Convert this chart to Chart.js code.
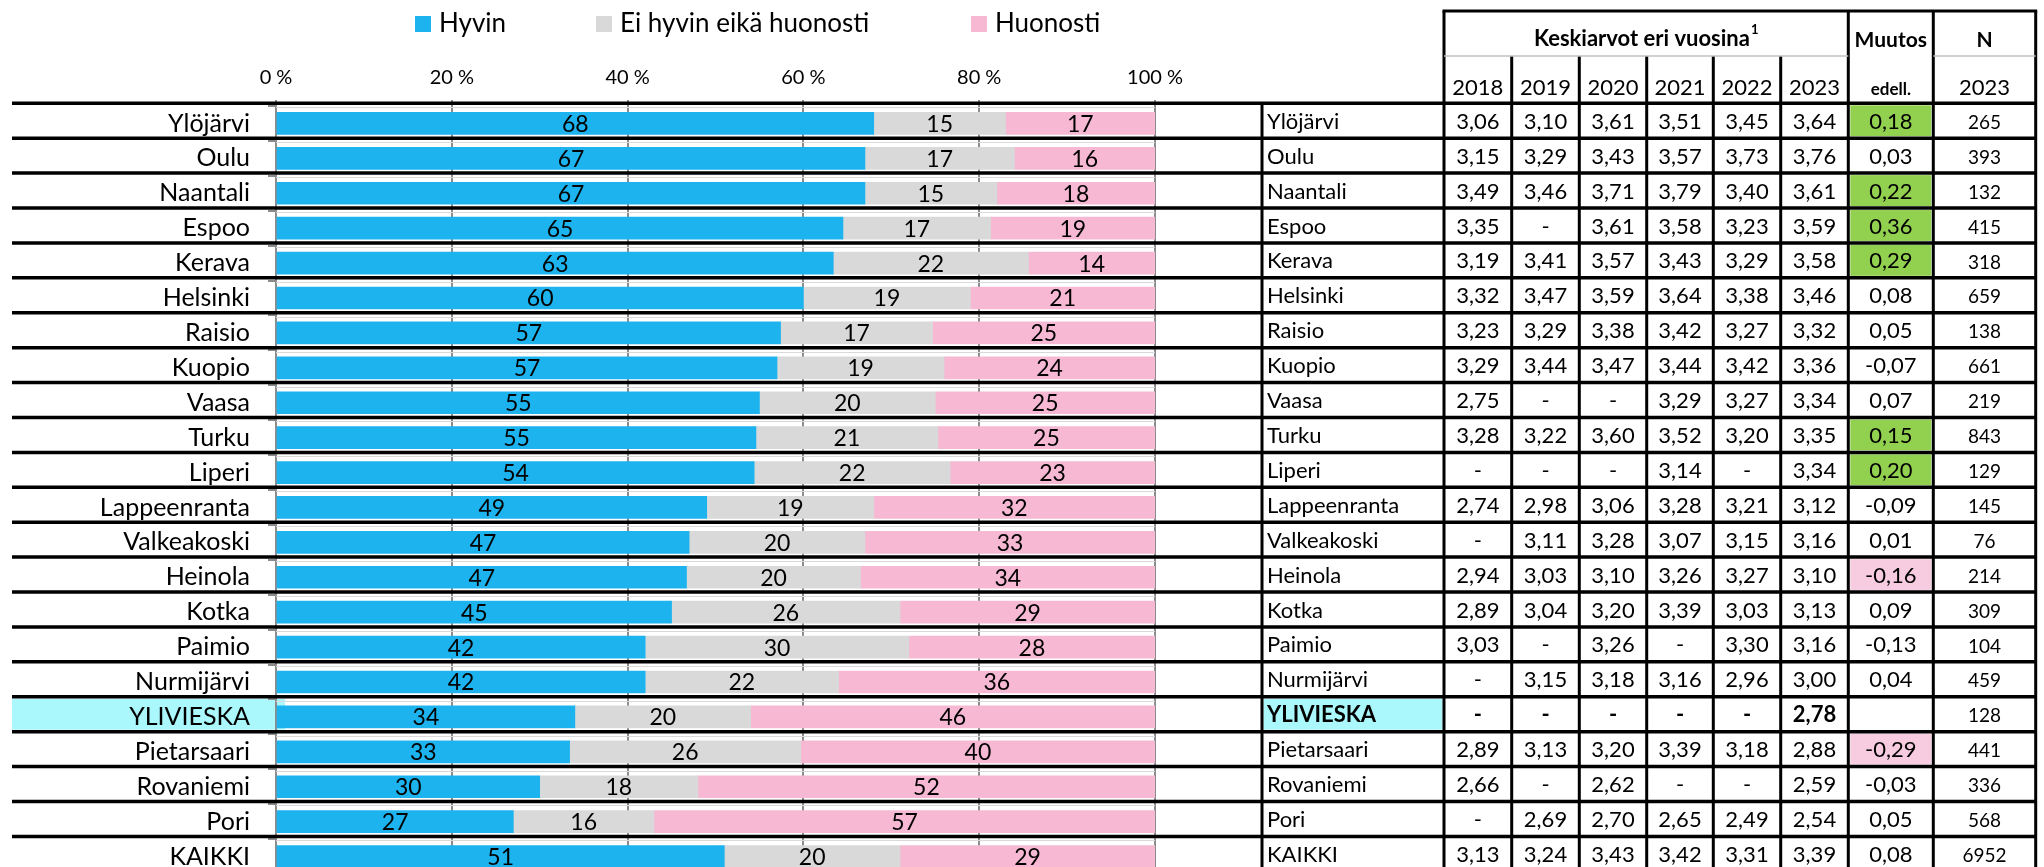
<!DOCTYPE html>
<html><head><meta charset="utf-8">
<script src="https://cdn.jsdelivr.net/npm/chart.js@4.4.1/dist/chart.umd.min.js"></script>
<style>
html,body{margin:0;padding:0;background:#fff;overflow:hidden;width:2044px;height:867px}
#wrap{width:2044px;height:880px;position:relative}
</style>
</head><body><div id="wrap"><canvas id="c" width="2044" height="880"></canvas></div>
<script>
// ---------- DATA ----------
const categories = ['Ylöjärvi','Oulu','Naantali','Espoo','Kerava','Helsinki','Raisio','Kuopio','Vaasa','Turku','Liperi','Lappeenranta','Valkeakoski','Heinola','Kotka','Paimio','Nurmijärvi','YLIVIESKA','Pietarsaari','Rovaniemi','Pori','KAIKKI'];
const seriesNames = ['Hyvin','Ei hyvin eikä huonosti','Huonosti'];
const hyvin      = [68, 67, 67, 64.5, 63.4, 60, 57.4, 57, 55, 54.6, 54.4, 49, 47, 46.7, 45, 42, 42, 34, 33.4, 30, 27, 51];
const eiHyvin    = [15, 17, 15, 16.8, 22.2, 19, 17.3, 19, 20, 20.7, 22.3, 19, 20, 19.8, 26, 30, 22, 20, 26.3, 18, 16, 20];
const huonosti   = [17, 16, 18, 18.7, 14.4, 21, 25.3, 24, 25, 24.7, 23.3, 32, 33, 33.5, 29, 28, 36, 46, 40.3, 52, 57, 29];
const xTicks = [0, 20, 40, 60, 80, 100];
const highlightCategory = 'YLIVIESKA';

const years = ['2018','2019','2020','2021','2022','2023'];
const avg2018 = [3.06,3.15,3.49,3.35,3.19,3.32,3.23,3.29,2.75,3.28,null,2.74,null,2.94,2.89,3.03,null,null,2.89,2.66,null,3.13];
const avg2019 = [3.10,3.29,3.46,null,3.41,3.47,3.29,3.44,null,3.22,null,2.98,3.11,3.03,3.04,null,3.15,null,3.13,null,2.69,3.24];
const avg2020 = [3.61,3.43,3.71,3.61,3.57,3.59,3.38,3.47,null,3.60,null,3.06,3.28,3.10,3.20,3.26,3.18,null,3.20,2.62,2.70,3.43];
const avg2021 = [3.51,3.57,3.79,3.58,3.43,3.64,3.42,3.44,3.29,3.52,3.14,3.28,3.07,3.26,3.39,null,3.16,null,3.39,null,2.65,3.42];
const avg2022 = [3.45,3.73,3.40,3.23,3.29,3.38,3.27,3.42,3.27,3.20,null,3.21,3.15,3.27,3.03,3.30,2.96,null,3.18,null,2.49,3.31];
const avg2023 = [3.64,3.76,3.61,3.59,3.58,3.46,3.32,3.36,3.34,3.35,3.34,3.12,3.16,3.10,3.13,3.16,3.00,2.78,2.88,2.59,2.54,3.39];
const muutos  = [0.18,0.03,0.22,0.36,0.29,0.08,0.05,-0.07,0.07,0.15,0.20,-0.09,0.01,-0.16,0.09,-0.13,0.04,null,-0.29,-0.03,0.05,0.08];
const n2023   = [265,393,132,415,318,659,138,661,219,843,129,145,76,214,309,104,459,128,441,336,568,6952];

// ---------- STYLE ----------
const FONT = 'Lato';
const colors = ['#1cb3ef', '#d9d9d9', '#f6b8d2'];
const GRID = '#8c8c8c';
const T = { // table geometry (px)
  lineLeft: 12, lineRight: 2036,
  nameL: 1262, cols: [1444, 1511.7, 1579.3, 1646.7, 1713.3, 1780.7, 1848.3], muutosR: 1933.3, nR: 2035.7,
  headTop: 11, headMid: 56, rowShift: -2.7
};

function fmt(v){ return v == null ? '-' : v.toFixed(2).replace('.', ','); }

function rowInfo(chart, i){
  const y = chart.scales.y;
  const pitch = y.height / categories.length;
  const c = y.getPixelForValue(i);
  const top = c - pitch / 2 + T.rowShift;
  return { top, bottom: top + pitch, mid: top + pitch / 2, c, pitch };
}

const highlightPlugin = {
  id: 'highlight',
  beforeDraw(chart){
    const ctx = chart.ctx;
    const i = categories.indexOf(highlightCategory);
    const r = rowInfo(chart, i);
    ctx.save();
    ctx.fillStyle = '#abf8fc';
    ctx.fillRect(T.lineLeft, r.top + 2, chart.chartArea.left + 9 - T.lineLeft, r.pitch - 4);
    ctx.restore();
  }
};

const labelsPlugin = {
  id: 'segLabels',
  afterDatasetsDraw(chart){
    const ctx = chart.ctx;
    ctx.save();
    ctx.font = '23px ' + FONT;
    ctx.fillStyle = '#000';
    ctx.textAlign = 'center';
    ctx.textBaseline = 'middle';
    chart.data.datasets.forEach((ds, di) => {
      const meta = chart.getDatasetMeta(di);
      meta.data.forEach((bar, i) => {
        const v = ds.data[i];
        if (v == null) return;
        const right = Math.min(bar.x, chart.chartArea.right);
        const cx = (right + bar.base) / 2;
        ctx.fillText(String(Math.round(v)), cx, bar.y + 1);
      });
    });
    ctx.restore();
  }
};

const tablePlugin = {
  id: 'table',
  afterDraw(chart){
    const ctx = chart.ctx;
    const n = categories.length;
    ctx.save();
    // cell fills
    for (let i = 0; i < n; i++){
      const r = rowInfo(chart, i);
      if (categories[i] === highlightCategory){
        ctx.fillStyle = '#abf8fc';
        ctx.fillRect(T.nameL + 1.5, r.top + 2, T.cols[0] - T.nameL - 3, r.pitch - 4);
      }
      const m = muutos[i];
      if (m != null && Math.abs(m) >= 0.15){
        ctx.fillStyle = m > 0 ? '#92d050' : '#f8cce0';
        ctx.fillRect(T.cols[6] + 2, r.top + 2, T.muutosR - T.cols[6] - 4, r.pitch - 4);
      }
    }
    // light lines below row separators in the plot
    ctx.strokeStyle = '#d9d9d9';
    ctx.lineWidth = 1;
    for (let i = 0; i < n; i++){
      const r = rowInfo(chart, i);
      ctx.beginPath();
      ctx.moveTo(chart.chartArea.left, Math.round(r.top) + 4.5);
      ctx.lineTo(chart.chartArea.right, Math.round(r.top) + 4.5);
      ctx.stroke();
    }
    // thick row separators
    ctx.strokeStyle = '#000';
    ctx.lineWidth = 3.5;
    const bottomY = rowInfo(chart, n - 1).bottom;
    for (let i = 0; i <= n; i++){
      const y = i < n ? rowInfo(chart, i).top : bottomY;
      ctx.beginPath();
      ctx.moveTo(T.lineLeft, y);
      ctx.lineTo(T.lineRight, y);
      ctx.stroke();
    }
    const firstTop = rowInfo(chart, 0).top;
    // vertical table lines
    ctx.lineWidth = 3;
    const vline = (x, y0) => { ctx.beginPath(); ctx.moveTo(x, y0); ctx.lineTo(x, bottomY); ctx.stroke(); };
    vline(T.nameL, firstTop);
    vline(T.cols[0], T.headTop);
    for (let k = 1; k < 6; k++) vline(T.cols[k], T.headMid);
    vline(T.cols[6], T.headTop);
    vline(T.muutosR, T.headTop);
    vline(T.nR, T.headTop);
    // top border
    ctx.beginPath(); ctx.moveTo(T.cols[0] - 1.5, T.headTop); ctx.lineTo(T.nR + 1.5, T.headTop); ctx.stroke();
    // header mid thin lines
    ctx.strokeStyle = '#bfbfbf'; ctx.lineWidth = 1.5;
    ctx.beginPath(); ctx.moveTo(T.cols[0], T.headMid); ctx.lineTo(T.cols[6], T.headMid); ctx.stroke();
    ctx.beginPath(); ctx.moveTo(T.muutosR, T.headMid); ctx.lineTo(T.nR, T.headMid); ctx.stroke();

    // header texts
    ctx.fillStyle = '#000';
    ctx.textBaseline = 'middle';
    const cx = (a, b) => (a + b) / 2;
    ctx.font = 'bold 22px ' + FONT;
    const head = 'Keskiarvot eri vuosina';
    const wHead = ctx.measureText(head).width;
    ctx.font = 'bold 13px ' + FONT;
    const wSup = ctx.measureText('1').width;
    const hx = cx(T.cols[0], T.cols[6]) - (wHead + wSup + 1) / 2;
    ctx.textAlign = 'left';
    ctx.font = 'bold 22px ' + FONT;
    ctx.fillText(head, hx, 39);
    ctx.font = 'bold 13px ' + FONT;
    ctx.fillText('1', hx + wHead + 1, 30);
    ctx.textAlign = 'center';
    ctx.font = 'bold 21px ' + FONT;
    ctx.fillText('Muutos', cx(T.cols[6], T.muutosR), 40);
    ctx.fillText('N', cx(T.muutosR, T.nR), 40);
    ctx.font = '22px ' + FONT;
    years.forEach((yr, k) => ctx.fillText(yr, cx(T.cols[k], T.cols[k + 1]), 88));
    ctx.fillText('2023', cx(T.muutosR, T.nR), 88);
    ctx.font = 'bold 17px ' + FONT;
    ctx.fillText('edell.', cx(T.cols[6], T.muutosR), 90);

    // body texts
    const yearArrays = [avg2018, avg2019, avg2020, avg2021, avg2022, avg2023];
    for (let i = 0; i < n; i++){
      const r = rowInfo(chart, i);
      const bold = categories[i] === highlightCategory;
      const y = r.mid + 1;
      ctx.textAlign = 'left';
      ctx.font = (bold ? 'bold ' : '') + '22px ' + FONT;
      ctx.fillText(categories[i], T.nameL + 5, y);
      ctx.textAlign = 'center';
      yearArrays.forEach((arr, k) => {
        ctx.fillText(fmt(arr[i]), cx(T.cols[k], T.cols[k + 1]), y);
      });
      ctx.font = '22px ' + FONT;
      if (muutos[i] != null) ctx.fillText(fmt(muutos[i]), cx(T.cols[6], T.muutosR), y);
      ctx.font = '19px ' + FONT;
      ctx.fillText(String(n2023[i]), cx(T.muutosR, T.nR), y + 1);
    }

    // legend
    const legendX = [415, 596, 971];
    ctx.textAlign = 'left';
    ctx.font = '26px ' + FONT;
    chart.data.datasets.forEach((ds, di) => {
      const x = legendX[di];
      ctx.fillStyle = ds.backgroundColor;
      ctx.fillRect(x, 16, 16, 16);
      ctx.fillStyle = '#000';
      ctx.fillText(ds.label, x + 24, 24);
    });
    ctx.restore();
  }
};

function build(){
  new Chart(document.getElementById('c'), {
    type: 'bar',
    data: {
      labels: categories,
      datasets: [
        { label: seriesNames[0], data: hyvin, backgroundColor: colors[0] },
        { label: seriesNames[1], data: eiHyvin, backgroundColor: colors[1] },
        { label: seriesNames[2], data: huonosti, backgroundColor: colors[2] }
      ]
    },
    options: {
      indexAxis: 'y',
      responsive: false,
      animation: false,
      events: [],
      datasets: { bar: { barThickness: 22, borderWidth: 0 } },
      layout: { padding: { left: 0, right: 889, top: 0, bottom: 6 } },
      plugins: { legend: { display: false }, tooltip: { enabled: false } },
      scales: {
        x: {
          position: 'top', stacked: true, min: 0, max: 100,
          afterBuildTicks: s => { s.ticks = xTicks.map(v => ({ value: v })); },
          ticks: { callback: v => v + ' %', font: { family: FONT, size: 20 }, color: '#000', padding: 10, maxRotation: 0 },
          grid: { color: GRID, lineWidth: 2, tickLength: 6 },
          border: { display: false },
          afterFit: s => { s.height = 106; s.paddingLeft = 0; s.paddingRight = 0; }
        },
        y: {
          stacked: true,
          ticks: { font: { family: FONT, size: 25 }, color: '#000', padding: 18, autoSkip: false },
          grid: { drawOnChartArea: false, color: GRID, lineWidth: 2, tickLength: 8 },
          border: { display: true, color: GRID, width: 2 },
          afterFit: s => { s.width = 276; s.paddingTop = 0; s.paddingBottom = 0; }
        }
      }
    },
    plugins: [highlightPlugin, labelsPlugin, tablePlugin]
  });
}
Promise.all([
  document.fonts.load('24px Lato'),
  document.fonts.load('bold 24px Lato')
]).then(build, build);
</script>
</body></html>
